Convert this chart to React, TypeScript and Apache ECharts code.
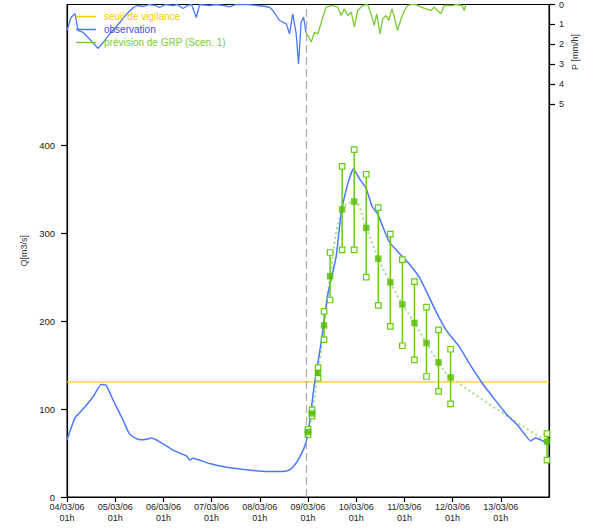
import React, { useEffect, useRef } from "react";
import * as echarts from "echarts";

// ---- Data ----
// x values are hours since 04/03/06 01h
const dayTicks = [0, 24, 48, 72, 96, 120, 144, 168, 192, 216];
const qTicks = [0, 100, 200, 300, 400];
const pTicks = [0, 1, 2, 3, 4, 5];

const forecastTime = 119;
const vigilanceThreshold = 131;

const obsFlowHours = [0, 4, 8, 13, 17, 19.5, 23, 28, 31, 34, 37, 40, 42, 46, 53, 59.5, 61, 62.7, 71, 79, 89, 99, 107, 110, 112.5, 116, 119, 121, 123, 126.5, 130, 134, 136.5, 139.8, 142.6, 145.6, 148.9, 152, 154.7, 158, 160.5, 165.5, 170.4, 175.4, 180.4, 183.7, 188.7, 195.3, 200.3, 206.9, 211.9, 218.5, 225, 230.8, 233.3, 240];
const obsFlowValues = [65, 90, 100, 114, 128, 127, 110, 87, 72, 67, 65, 66, 67, 63, 53, 46.6, 42, 44, 38, 34, 31, 29, 29, 30, 34, 46, 62, 88, 125, 175, 232, 273, 322, 356, 373, 362, 351, 330, 322, 303, 290, 277, 265, 250, 227, 211, 190, 171, 152, 129, 114, 95, 80, 64, 67, 60];

const obsRainHours = [0, 2, 4, 5.5, 8, 11, 15.5, 18, 21.5, 25.5, 29.5, 33, 35, 38, 41, 44, 46, 49, 53, 55, 57.8, 60, 62, 64.4, 66, 71, 74, 78, 81, 84, 90, 95, 99, 101, 102.5, 105.8, 109.2, 110.8, 112.4, 114.1, 115.3, 116.6, 117.8, 119];
const obsRainValues = [1.3, 0.65, 0.45, 1.3, 1.4, 1.7, 2.2, 1.9, 1.45, 1.0, 0.5, 0.15, 0.05, 0.1, 0, 0.05, 0.15, 0, 0.05, 0, 0.2, 0.05, 0, 0.65, 0, 0.05, 0, 0.05, 0.12, 0, 0, 0.05, 0.1, 0.15, 0.3, 0.8, 0.97, 1.47, 0.47, 1.45, 2.97, 0.88, 0.63, 1.4];

const fcstRainHours = [119, 121.6, 123.2, 124.9, 127.4, 129, 132.3, 134.8, 136.5, 138.1, 139.8, 141.5, 143.1, 144.7, 147.2, 149.7, 151.4, 153, 154.2, 155.9, 157.2, 158.9, 160.2, 161.8, 163, 164.6, 166.3, 168, 169.6, 171.3, 173.8, 176.3, 178.7, 181.2, 182.9, 184.5, 186.2, 187.8, 192, 193.6, 196.8, 197.8, 198.6];
const fcstRainValues = [1.38, 1.88, 1.4, 1.47, 0.63, 0.13, 0.05, 0.13, 0.55, 0.22, 0.55, 0.38, 1.13, 0.3, 0.05, 0, 0.47, 1.05, 0.47, 1.47, 0.72, 0.55, 0.8, 0.22, 0.63, 1.3, 0.72, 0.3, 0.05, 0, 0, 0.13, 0.22, 0.3, 0.13, 0.3, 0.47, 0.05, 0.05, 0, 0.05, 0.3, 0];

const fcstHours = [120, 122, 125, 128, 131, 137, 143, 149, 155, 161, 167, 173, 179, 185, 191, 239];
const fcstMedian = [74, 95, 141, 195, 251, 327, 336, 306, 271, 244, 219, 198, 175, 153, 136, 63];
const fcstLow = [71, 92, 135, 179, 224, 281, 281, 250, 218, 194, 172, 156, 137, 120, 106, 42];
const fcstHigh = [77, 99, 147, 211, 278, 376, 395, 367, 329, 299, 270, 245, 216, 190, 168, 72];

// ---- Styles ----
const FONT = "Liberation Sans, Arial, sans-serif";
const BLUE = "#4a78ff";
const GREEN = "#66cc11";
const YELLOW = "#ffcc00";

const zip = (a: number[], b: number[]) => a.map((v, i) => [v, b[i]]);

export default function App() {
  const ref = useRef<HTMLDivElement>(null);
  useEffect(() => {
    if (!ref.current) return;
    const chart = echarts.init(ref.current, undefined, { renderer: "svg" });
    const fmtDay = (v: number) => {
      const d = 4 + Math.round(v / 24);
      return (d < 10 ? "0" + d : "" + d) + "/03/06\n01h";
    };
    const option: any = {
      animation: false,
      backgroundColor: "#fff",
      textStyle: { fontFamily: FONT },
      grid: {
        left: 67,
        right: 47,
        top: 4,
        bottom: 35,
        show: true,
        borderColor: "#000",
        borderWidth: 1,
        backgroundColor: "transparent",
      },
      legend: {
        orient: "vertical",
        left: 76,
        top: 10,
        padding: 0,
        icon: "rect",
        itemWidth: 20,
        itemHeight: 1.5,
        itemGap: 0,
        textStyle: { fontSize: 10, lineHeight: 13, fontFamily: FONT, padding: [0, 0, 0, 3] },
        data: [
          { name: "seuil de vigilance", textStyle: { color: "#f8c800" } },
          { name: "observation", textStyle: { color: "#4646f2" } },
          { name: "prévision de GRP (Scen. 1)", textStyle: { color: "#78cc3a" } },
        ],
      },
      xAxis: {
        type: "value",
        min: 0,
        max: 240,
        interval: 24,
        axisLine: { show: true, lineStyle: { color: "#000", width: 1.2 } },
        axisTick: { show: true, customValues: dayTicks, length: 5, lineStyle: { color: "#000", width: 1.2 } },
        axisLabel: {
          customValues: dayTicks,
          formatter: fmtDay,
          fontSize: 9,
          lineHeight: 11.5,
          color: "#222",
          margin: 4,
          fontFamily: FONT,
        },
        splitLine: { show: false },
      },
      yAxis: [
        {
          type: "value",
          min: 0,
          max: 560,
          position: "left",
          name: "Q[m3/s]",
          nameLocation: "middle",
          nameGap: 31,
          nameRotate: 90,
          nameTextStyle: { fontSize: 9, color: "#333", fontFamily: FONT },
          axisLine: { show: true, lineStyle: { color: "#000", width: 1.2 } },
          axisTick: { show: true, customValues: qTicks, length: 6, lineStyle: { color: "#000", width: 1.2 } },
          axisLabel: { customValues: qTicks, fontSize: 9.5, color: "#222", margin: 12, fontFamily: FONT },
          splitLine: { show: false },
        },
        {
          type: "value",
          min: 0,
          max: 24.65,
          inverse: true,
          position: "right",
          axisLine: { show: true, lineStyle: { color: "#000", width: 1.2 } },
          axisTick: { show: true, customValues: pTicks, length: 6, lineStyle: { color: "#000", width: 1.2 } },
          axisLabel: { customValues: pTicks, fontSize: 9, color: "#222", margin: 10, fontFamily: FONT },
          splitLine: { show: false },
        },
      ],
      graphic: [
        {
          type: "text",
          x: 575,
          y: 52,
          rotation: Math.PI / 2,
          style: {
            text: "P [mm/h]",
            fontSize: 9,
            fontFamily: FONT,
            fill: "#333",
            align: "center",
            verticalAlign: "middle",
          },
        },
      ],
      series: [
        {
          name: "seuil de vigilance",
          type: "line",
          data: [[0, vigilanceThreshold], [240, vigilanceThreshold]],
          symbol: "none",
          lineStyle: { color: YELLOW, width: 1.2 },
          itemStyle: { color: YELLOW },
          z: 2,
        },
        {
          name: "observation",
          type: "line",
          data: zip(obsFlowHours, obsFlowValues),
          symbol: "none",
          smooth: 0.15,
          lineStyle: { color: BLUE, width: 1.5 },
          itemStyle: { color: BLUE },
          z: 3,
          markLine: {
            silent: true,
            symbol: "none",
            label: { show: false },
            lineStyle: { color: "#aaaaaa", type: [8, 4], width: 1.2 },
            data: [{ xAxis: forecastTime }],
          },
        },
        {
          name: "observation",
          type: "line",
          yAxisIndex: 1,
          data: zip(obsRainHours, obsRainValues),
          symbol: "none",
          lineStyle: { color: BLUE, width: 1.3 },
          itemStyle: { color: BLUE },
          z: 3,
        },
        {
          name: "prévision de GRP (Scen. 1)",
          type: "line",
          yAxisIndex: 1,
          data: zip(fcstRainHours, fcstRainValues),
          symbol: "none",
          lineStyle: { color: "#77cc33", width: 1.3 },
          itemStyle: { color: "#77cc33" },
          z: 3,
        },
        {
          name: "prévision de GRP (Scen. 1)",
          type: "line",
          data: zip(fcstHours, fcstMedian),
          symbol: "none",
          smooth: 0.4,
          lineStyle: { color: "#a4dd84", width: 2, type: [2, 3] },
          itemStyle: { color: "#a4dd84" },
          z: 2,
        },
        {
          name: "prévision de GRP (Scen. 1)",
          type: "custom",
          data: fcstHours.map((h, i) => [h, fcstLow[i], fcstHigh[i]]),
          encode: { x: 0, y: [1, 2] },
          z: 4,
          renderItem: (params: any, api: any) => {
            const x = api.value(0);
            const lo = api.coord([x, api.value(1)]);
            const hi = api.coord([x, api.value(2)]);
            const s = 5.5;
            const box = (p: number[]) => ({
              type: "rect",
              shape: { x: p[0] - s / 2, y: p[1] - s / 2, width: s, height: s },
              style: { fill: "#fff", stroke: GREEN, lineWidth: 1.2 },
            });
            return {
              type: "group",
              children: [
                {
                  type: "line",
                  shape: { x1: lo[0], y1: lo[1], x2: hi[0], y2: hi[1] },
                  style: { stroke: GREEN, lineWidth: 1.5 },
                },
                box(lo),
                box(hi),
              ],
            };
          },
        },
        {
          name: "prévision de GRP (Scen. 1)",
          type: "scatter",
          data: zip(fcstHours, fcstMedian),
          symbol: "rect",
          symbolSize: 6.5,
          itemStyle: { color: "#55bb00" },
          z: 5,
        },
      ],
    };
    chart.setOption(option);
    return () => chart.dispose();
  }, []);
  return (
    <div
      ref={ref}
      style={{ position: "absolute", left: 0, top: 0, width: 596, height: 532 }}
    />
  );
}
